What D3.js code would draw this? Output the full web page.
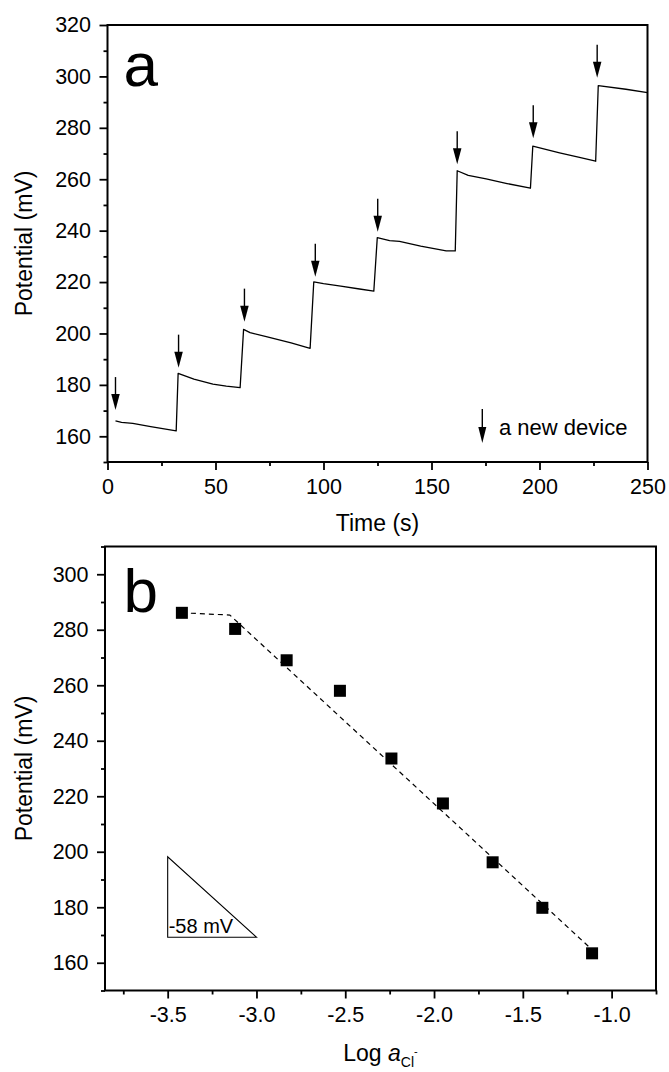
<!DOCTYPE html>
<html>
<head>
<meta charset="utf-8">
<script src="https://cdn.jsdelivr.net/npm/d3@7"></script>
<style>
  body { margin: 0; background: #fff; }
  svg { display: block; background: #fff; }
  text { font-family: "Liberation Sans", Arial, Helvetica, sans-serif; fill: #000; }
</style>
</head>
<body>
<svg id="chart" width="669" height="1072"></svg>
<script>
// ---- Panel a: potential vs time, one step per new device ----
const traceTime = [3.7, 6.5, 11.7, 20, 31.8,
  32.7, 40, 48.8, 55, 61.4,
  63.0, 66, 73.5, 85, 93.8,
  95.5, 100, 108, 116.7, 123.3,
  124.9, 130.6, 135.2, 145, 156.8, 161.0,
  161.9, 167, 175.3, 185, 195.8,
  196.9, 209.3, 218, 226.0,
  227.2, 240, 250];
const tracePotential = [166.0, 165.4, 165.0, 163.8, 162.1,
  184.5, 182.2, 180.3, 179.5, 178.9,
  201.6, 200.3, 198.8, 196.3, 194.2,
  220.1, 219.4, 218.4, 217.3, 216.5,
  237.3, 236.1, 235.8, 234.0, 232.1, 232.1,
  263.3, 261.5, 260.1, 258.3, 256.5,
  272.9, 270.3, 268.6, 267.0,
  296.4, 295.0, 293.7];
// where each new device was inserted (arrow tips)
const deviceTime = [3.7, 32.9, 63.4, 96.2, 125.1, 161.9, 197.1, 226.7];
const deviceTipPotential = [170.2, 186.7, 204.6, 222.1, 239.6, 265.8, 275.9, 299.5];

const timeTicks = [0, 50, 100, 150, 200, 250];
const timeMinorTicks = [25, 75, 125, 175, 225];
const potentialTicksA = [160, 180, 200, 220, 240, 260, 280, 300, 320];
const potentialMinorTicksA = [150, 170, 190, 210, 230, 250, 270, 290, 310];

// ---- Panel b: calibration, potential vs log chloride activity ----
const logActivity = [-3.42, -3.12, -2.83, -2.53, -2.24, -1.95, -1.67, -1.39, -1.11];
const potentialB = [286.1, 280.3, 269.0, 258.0, 233.6, 217.4, 196.2, 179.8, 163.4];
const fitLogActivity = [-3.42, -3.15, -1.12];
const fitPotential = [286.1, 285.3, 165.3];

const logTicks = [-3.5, -3.0, -2.5, -2.0, -1.5, -1.0];
const logMinorTicks = [-3.75, -3.25, -2.75, -2.25, -1.75, -1.25, -0.75];
const potentialTicksB = [160, 180, 200, 220, 240, 260, 280, 300];
const potentialMinorTicksB = [150, 170, 190, 210, 230, 250, 270, 290, 310];

// Nernstian slope guide: -58 mV per decade drawn over half a decade
const slopeX = [-3.5, -3.0];
const slopeTop = 198.2;
const slopeValue = -58;

const FONT = '"Liberation Sans", Arial, Helvetica, sans-serif';
const svg = d3.select('#chart');

function drawAxes(x, y, xMaj, xMin, yMaj, yMin, fmt) {
  const [x0, x1] = x.range();
  const [y0, y1] = y.range();
  const g = svg.append('g');
  const style = s => {
    s.select('.domain').remove();
    s.attr('font-family', FONT).attr('font-size', 21.5);
    s.selectAll('line').attr('stroke-width', 1.8);
  };
  g.append('g').attr('transform', `translate(0,${y0})`)
    .call(d3.axisBottom(x).tickValues(xMin).tickSize(4).tickFormat(''))
    .call(style);
  g.append('g').attr('transform', `translate(0,${y0})`)
    .call(d3.axisBottom(x).tickValues(xMaj).tickSize(8).tickPadding(8.5).tickFormat(fmt))
    .call(style);
  g.append('g').attr('transform', `translate(${x0},0)`)
    .call(d3.axisLeft(y).tickValues(yMin).tickSize(4).tickFormat(''))
    .call(style);
  g.append('g').attr('transform', `translate(${x0},0)`)
    .call(d3.axisLeft(y).tickValues(yMaj).tickSize(8).tickPadding(8.5).tickFormat(d3.format('d')))
    .call(style);
  g.append('rect')
    .attr('x', x0).attr('y', y1)
    .attr('width', x1 - x0).attr('height', y0 - y1)
    .attr('fill', 'none').attr('stroke', '#000').attr('stroke-width', 2);
}

function downArrow(g, cx, tipY, len, headLen, headW) {
  g.append('line')
    .attr('x1', cx).attr('x2', cx)
    .attr('y1', tipY - len).attr('y2', tipY - headLen + 1)
    .attr('stroke', '#000').attr('stroke-width', 1.4);
  g.append('path')
    .attr('d', `M${cx - headW / 2},${tipY - headLen}L${cx + headW / 2},${tipY - headLen}L${cx},${tipY}Z`)
    .attr('fill', '#000');
}

// ================= Panel a =================
const xA = d3.scaleLinear().domain([0, 250]).range([107.5, 647.5]);
const yA = d3.scaleLinear().domain([150, 320]).range([462, 25]);
drawAxes(xA, yA, timeTicks, timeMinorTicks, potentialTicksA, potentialMinorTicksA, d3.format('d'));

const trace = traceTime.map((t, i) => [t, tracePotential[i]]);
svg.append('path')
  .datum(trace)
  .attr('fill', 'none').attr('stroke', '#000').attr('stroke-width', 1.3)
  .attr('stroke-linejoin', 'round')
  .attr('d', d3.line().x(d => xA(d[0])).y(d => yA(d[1])));

const arrowsA = svg.append('g');
deviceTime.forEach((t, i) => downArrow(arrowsA, xA(t), yA(deviceTipPotential[i]), 33, 16, 8.5));

// legend
const legA = svg.append('g');
downArrow(legA, 482.3, 443, 34, 16, 8);
legA.append('text').attr('x', 499).attr('y', 435).attr('font-size', 22).text('a new device');

svg.append('text').attr('x', 123.5).attr('y', 86).attr('font-size', 62).text('a');

svg.append('text')
  .attr('transform', `translate(32,${(yA.range()[0] + yA.range()[1]) / 2}) rotate(-90)`)
  .attr('text-anchor', 'middle').attr('font-size', 23)
  .text('Potential (mV)');
svg.append('text')
  .attr('x', (xA.range()[0] + xA.range()[1]) / 2).attr('y', 531)
  .attr('text-anchor', 'middle').attr('font-size', 23)
  .text('Time (s)');

// ================= Panel b =================
const xB = d3.scaleLinear().domain([-3.853, -0.75]).range([105, 656]);
const yB = d3.scaleLinear().domain([150, 310]).range([990.5, 546.5]);
drawAxes(xB, yB, logTicks, logMinorTicks, potentialTicksB, potentialMinorTicksB, d => d.toFixed(1));

const fit = fitLogActivity.map((v, i) => [v, fitPotential[i]]);
svg.append('path')
  .datum(fit)
  .attr('fill', 'none').attr('stroke', '#000').attr('stroke-width', 1.2)
  .attr('stroke-dasharray', '5,4')
  .attr('d', d3.line().x(d => xB(d[0])).y(d => yB(d[1])));

const pts = logActivity.map((v, i) => [v, potentialB[i]]);
svg.append('g').selectAll('rect').data(pts).join('rect')
  .attr('x', d => xB(d[0]) - 6).attr('y', d => yB(d[1]) - 6)
  .attr('width', 12).attr('height', 12).attr('fill', '#000');

// slope triangle
const slopeBottom = slopeTop + slopeValue * (slopeX[1] - slopeX[0]);
const tri = [[slopeX[0], slopeTop], [slopeX[0], slopeBottom], [slopeX[1], slopeBottom]];
svg.append('path')
  .attr('d', d3.line().x(d => xB(d[0])).y(d => yB(d[1]))(tri) + 'Z')
  .attr('fill', 'none').attr('stroke', '#000').attr('stroke-width', 1.1);
svg.append('text')
  .attr('x', xB(slopeX[0]) + 1).attr('y', yB(slopeBottom) - 4)
  .attr('font-size', 20)
  .text(`${slopeValue} mV`.replace('\u2212', '-'));

svg.append('text').attr('x', 123.5).attr('y', 611.7).attr('font-size', 62).text('b');

svg.append('text')
  .attr('transform', `translate(32,${(yB.range()[0] + yB.range()[1]) / 2}) rotate(-90)`)
  .attr('text-anchor', 'middle').attr('font-size', 23)
  .text('Potential (mV)');

const xt = svg.append('text')
  .attr('x', (xB.range()[0] + xB.range()[1]) / 2).attr('y', 1061)
  .attr('text-anchor', 'middle').attr('font-size', 23);
xt.append('tspan').text('Log ');
xt.append('tspan').attr('font-style', 'italic').text('a');
xt.append('tspan').attr('font-size', 14).attr('dy', 6).text('Cl');
xt.append('tspan').attr('font-size', 11).attr('dy', -12).text('-');
</script>
</body>
</html>
